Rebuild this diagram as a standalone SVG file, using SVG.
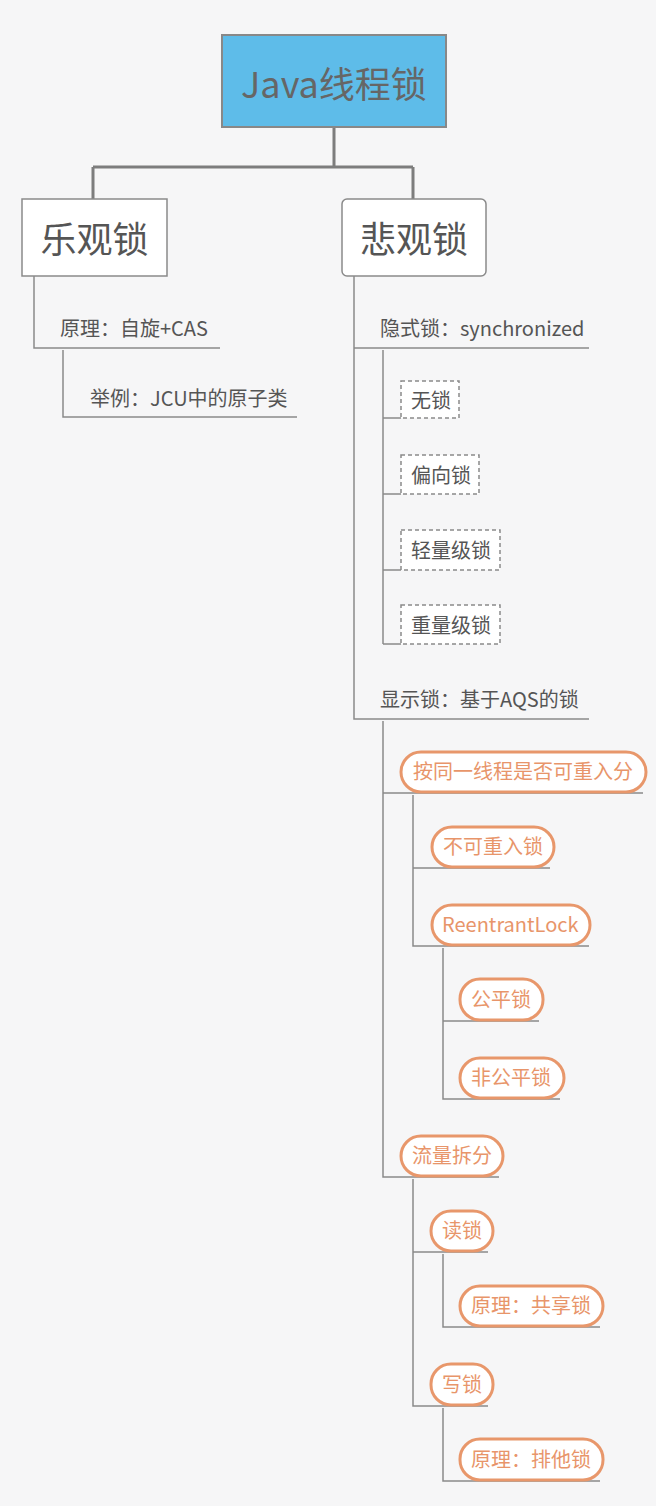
<svg xmlns="http://www.w3.org/2000/svg" width="656" height="1506" viewBox="0 0 656 1506">
<style>
text{font-family:"Noto Sans CJK SC","Noto Sans",sans-serif;}
.t{font-size:20px;fill:#555;}
.big{font-size:36px;fill:#555;text-anchor:middle;}
.o{font-size:20px;fill:#e8956a;}
.pill{fill:#fff;stroke:#e8976b;stroke-width:3;}
.dash{fill:#fff;stroke:#8a8a8a;stroke-width:1.5;stroke-dasharray:4 3;}
.ln{fill:none;stroke:#8a8a8a;stroke-width:1.5;}
.thick{fill:none;stroke:#7d7d7d;stroke-width:3;}
</style>
<rect width="656" height="1506" fill="#f6f6f7"/>
<g id="connectors">
<path class="thick" d="M334 127V167M93 167H413M93 167V199M413 167V199"/>
<path class="ln" d="M34 276V348H220M63 350V417H297"/>
<path class="ln" d="M354 276V719H589M354 348H589"/>
<path class="ln" d="M383 350V644M383 418H401M383 494H401M383 570H401M383 644H401"/>
<path class="ln" d="M383 721V1177H499M383 793H643"/>
<path class="ln" d="M413 795V946H589M413 868H550"/>
<path class="ln" d="M443 948V1099H560M443 1021H539"/>
<path class="ln" d="M413 1179V1406H488M413 1252H488"/>
<path class="ln" d="M443 1254V1327H600M443 1408V1481H600"/>
</g>
<g id="root"><rect x="222" y="35" width="224" height="92" fill="#5ebce9" stroke="#888" stroke-width="2"/><text x="334" y="98" class="big" fill="#666" style="fill:#666">Java线程锁</text></g>
<g id="optimistic"><rect x="22" y="199" width="145" height="77" fill="#fff" stroke="#8a8a8a" stroke-width="1.5"/><text x="94.5" y="253" class="big">乐观锁</text></g>
<g id="pessimistic"><rect x="342" y="199" width="144" height="77" rx="5" fill="#fff" stroke="#8a8a8a" stroke-width="1.5"/><text x="414" y="253" class="big">悲观锁</text></g>
<g id="opt-principle"><text x="60" y="336" class="t">原理：自旋+CAS</text></g>
<g id="opt-example"><text x="90" y="406" class="t">举例：JCU中的原子类</text></g>
<g id="implicit"><text x="380" y="336" class="t">隐式锁：synchronized</text></g>
<g id="nolock"><rect x="401" y="381" width="58" height="37" class="dash"/><text x="411" y="408" class="t">无锁</text></g>
<g id="biased"><rect x="401" y="455" width="78" height="39" class="dash"/><text x="411" y="483" class="t">偏向锁</text></g>
<g id="light"><rect x="401" y="530" width="99" height="40" class="dash"/><text x="411" y="558" class="t">轻量级锁</text></g>
<g id="heavy"><rect x="401" y="605" width="99" height="39" class="dash"/><text x="411" y="633" class="t">重量级锁</text></g>
<g id="explicit"><text x="380" y="707" class="t">显示锁：基于AQS的锁</text></g>
<g id="reentrant-split"><rect x="401" y="752" width="245" height="40" rx="20" class="pill"/><text x="413" y="779" class="o">按同一线程是否可重入分</text></g>
<g id="non-reentrant"><rect x="432" y="827" width="122" height="40" rx="20" class="pill"/><text x="443" y="854" class="o">不可重入锁</text></g>
<g id="reentrantlock"><rect x="432" y="905" width="158" height="40" rx="20" class="pill"/><text x="442" y="932" class="o">ReentrantLock</text></g>
<g id="fair"><rect x="460" y="979" width="83" height="41" rx="20" class="pill"/><text x="471" y="1007" class="o">公平锁</text></g>
<g id="unfair"><rect x="460" y="1058" width="104" height="40" rx="20" class="pill"/><text x="471" y="1085" class="o">非公平锁</text></g>
<g id="flow-split"><rect x="401" y="1136" width="102" height="40" rx="20" class="pill"/><text x="412" y="1163" class="o">流量拆分</text></g>
<g id="read"><rect x="431" y="1211" width="62" height="40" rx="20" class="pill"/><text x="442" y="1238" class="o">读锁</text></g>
<g id="read-principle"><rect x="460" y="1286" width="143" height="40" rx="20" class="pill"/><text x="471" y="1313" class="o">原理：共享锁</text></g>
<g id="write"><rect x="431" y="1364" width="62" height="41" rx="20" class="pill"/><text x="442" y="1392" class="o">写锁</text></g>
<g id="write-principle"><rect x="460" y="1439" width="143" height="41" rx="20" class="pill"/><text x="471" y="1467" class="o">原理：排他锁</text></g>
</svg>
